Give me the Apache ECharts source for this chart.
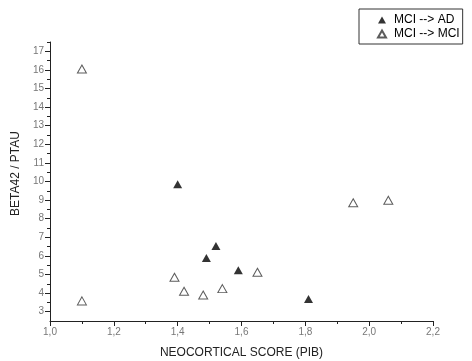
<!DOCTYPE html>
<html>
<head>
<meta charset="utf-8">
<script src="https://cdn.jsdelivr.net/npm/echarts@6/dist/echarts.min.js"></script>
<style>
  html, body { margin: 0; padding: 0; background: #fff; }
  #chart { width: 472px; height: 361px; }
</style>
</head>
<body>
<div id="chart"></div>
<script>
// MCI --> AD (filled triangles)
const adX = [1.40, 1.52, 1.49, 1.59, 1.81];
const adY = [9.85, 6.53, 5.89, 5.23, 3.68];
// MCI --> MCI (open triangles)
const mciX = [1.10, 1.10, 1.39, 1.42, 1.48, 1.54, 1.65, 1.95, 2.06];
const mciY = [16.05, 3.58, 4.85, 4.10, 3.90, 4.24, 5.12, 8.86, 8.99];
// y tick labels
const yTicks = [3, 4, 5, 6, 7, 8, 9, 10, 11, 12, 13, 14, 15, 16, 17];
const yMinorTicks = yTicks.map(v => v + 0.5);

const font = 'Liberation Sans, Arial, sans-serif';
const toPairs = (xs, ys) => xs.map((x, i) => [x, ys[i]]);

const chart = echarts.init(document.getElementById('chart'));
chart.setOption({
  animation: false,
  grid: { left: 50, right: 39, top: 42, bottom: 40, outerBoundsMode: 'none' },
  legend: {
    orient: 'vertical',
    left: 359,
    top: 9,
    padding: [5, 3, 4, 18],
    itemGap: 2,
    itemWidth: 8,
    itemHeight: 7,
    borderColor: '#333',
    borderWidth: 1,
    textStyle: { fontFamily: font, fontSize: 12, color: '#000', padding: [0, 0, 0, 3] },
    data: ['MCI --> AD', 'MCI --> MCI']
  },
  xAxis: {
    type: 'value',
    min: 1.0,
    max: 2.2,
    interval: 0.2,
    name: 'NEOCORTICAL SCORE (PIB)',
    nameLocation: 'middle',
    nameGap: 26,
    nameTextStyle: { fontFamily: font, fontSize: 12, color: '#222' },
    axisLine: { lineStyle: { color: '#222', width: 1 } },
    axisTick: { length: 5, lineStyle: { color: '#222' } },
    minorTick: { show: true, splitNumber: 2, length: 3, lineStyle: { color: '#222' } },
    axisLabel: {
      fontFamily: font, fontSize: 10, color: '#777', margin: 6,
      formatter: v => v.toFixed(1).replace('.', ',')
    },
    splitLine: { show: false }
  },
  yAxis: [{
    type: 'value',
    min: 2.5,
    max: 17.5,
    name: 'BETA42 / PTAU',
    nameLocation: 'middle',
    nameGap: 26,
    nameRotate: 90,
    nameTextStyle: { fontFamily: font, fontSize: 12, color: '#222', padding: [0, 0, 0, 16] },
    axisLine: { show: true, lineStyle: { color: '#222', width: 1 } },
    axisTick: { show: true, length: 5, customValues: yTicks, lineStyle: { color: '#222' } },
    axisLabel: { fontFamily: font, fontSize: 10, color: '#777', margin: 6, customValues: yTicks },
    splitLine: { show: false }
  }, {
    type: 'value',
    position: 'left',
    min: 2.5,
    max: 17.5,
    axisLine: { show: false },
    axisTick: { show: true, length: 3, customValues: yMinorTicks, lineStyle: { color: '#222' } },
    axisLabel: { show: false },
    splitLine: { show: false }
  }],
  series: [{
    name: 'MCI --> AD',
    type: 'scatter',
    symbol: 'triangle',
    symbolSize: [9, 8],
    itemStyle: { color: '#000' },
    data: toPairs(adX, adY)
  }, {
    name: 'MCI --> MCI',
    type: 'scatter',
    symbol: 'triangle',
    symbolSize: [9, 8],
    itemStyle: { color: '#fff', borderColor: '#333', borderWidth: 1 },
    data: toPairs(mciX, mciY)
  }]
});
</script>
</body>
</html>
